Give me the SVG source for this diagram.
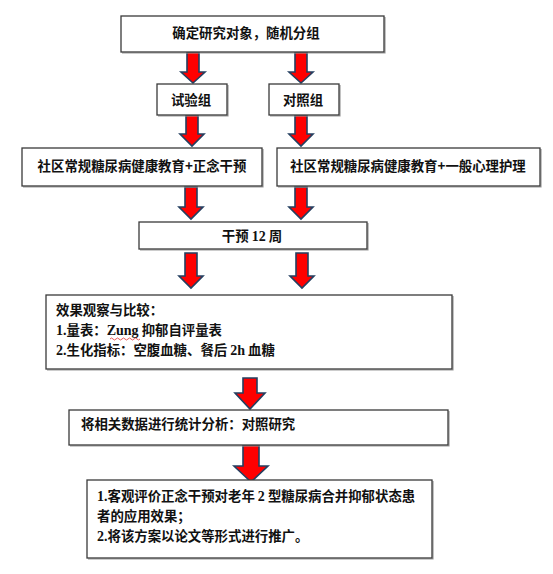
<svg xmlns="http://www.w3.org/2000/svg" width="553" height="574" viewBox="0 0 553 574">
<style>
.box{fill:#fff;stroke:#3a3a3a;stroke-width:1.3}
.sh{fill:none;stroke:#9a9a9a;stroke-width:1.2}
.arr{fill:#ff0000;stroke:#243f60;stroke-width:1.6;stroke-linejoin:miter}
text{font-family:"Noto Sans CJK SC","Noto Sans CJK JP",sans-serif;font-weight:bold;font-size:13.4px;fill:#111}
.c{text-anchor:middle}
.n{font-family:"Liberation Serif",serif;font-weight:bold;font-size:14px}
</style>
<rect width="553" height="574" fill="#fff"/>
<g id="connectors">
<polygon class="arr" points="187,52 199,52 199,72 205,72 193,83 181,72 187,72"/>
<polygon class="arr" points="295,52 307,52 307,72 313,72 301,83 289,72 295,72"/>
<polygon class="arr" points="186,115 198,115 198,134 204,134 192,146 180,134 186,134"/>
<polygon class="arr" points="295,115 307,115 307,134 313,134 301,146 289,134 295,134"/>
<polygon class="arr" points="185,187 197,187 197,207 203,207 191,219 179,207 185,207"/>
<polygon class="arr" points="295,187 307,187 307,207 313,207 301,219 289,207 295,207"/>
<polygon class="arr" points="185,253 197,253 197,276 203,276 191,288 179,276 185,276"/>
<polygon class="arr" points="296,253 308,253 308,276 314,276 302,288 290,276 296,276"/>
<polygon class="arr" points="243,378 257,378 257,393 265,393 250,409 235,393 243,393"/>
<polygon class="arr" points="243,445 259,445 259,466 268,466 251,482 234,466 243,466"/>
</g>
<g id="n1">
<polyline class="sh" points="385,17 385,53 122,53"/>
<rect class="box" x="121" y="16" width="263" height="36"/>
<text class="c" x="246" y="38">确定研究对象，随机分组</text>
</g>
<g id="n2">
<polyline class="sh" points="228,85 228,116 158,116"/>
<rect class="box" x="157" y="84" width="70" height="31"/>
<text class="c" x="191" y="105">试验组</text>
</g>
<g id="n3">
<polyline class="sh" points="340,85 340,116 270,116"/>
<rect class="box" x="269" y="84" width="70" height="31"/>
<text class="c" x="303" y="105">对照组</text>
</g>
<g id="n4">
<polyline class="sh" points="263,149 263,187 23,187"/>
<rect class="box" x="22" y="148" width="240" height="38"/>
<text class="c" x="142" y="171">社区常规糖尿病健康教育+正念干预</text>
</g>
<g id="n5">
<polyline class="sh" points="541,149 541,187 278,187"/>
<rect class="box" x="277" y="148" width="263" height="38"/>
<text class="c" x="408" y="171">社区常规糖尿病健康教育+一般心理护理</text>
</g>
<g id="n6">
<polyline class="sh" points="368,223 368,250 140,250"/>
<rect class="box" x="139" y="222" width="228" height="27"/>
<text class="c" x="252" y="241">干预 <tspan class="n">12</tspan> 周</text>
</g>
<g id="n7">
<polyline class="sh" points="453,296 453,370 47,370"/>
<rect class="box" x="46" y="295" width="406" height="74"/>
<text x="56" y="315">效果观察与比较：</text>
<text x="56" y="335"><tspan class="n">1.</tspan>量表：<tspan class="n">Zung</tspan> 抑郁自评量表</text>
<path d="M110,339 q1.5,-2 3,0 t3,0 t3,0 t3,0 t3,0 t3,0 t3,0 t3,0 t3,0 t3,0" fill="none" stroke="#e03030" stroke-width="0.8"/>
<text x="56" y="355"><tspan class="n">2.</tspan>生化指标：空腹血糖、餐后 <tspan class="n">2h</tspan> 血糖</text>
</g>
<g id="n8">
<polyline class="sh" points="449,411 449,446 70,446"/>
<rect class="box" x="69" y="410" width="379" height="35"/>
<text x="81" y="429">将相关数据进行统计分析：对照研究</text>
</g>
<g id="n9">
<polyline class="sh" points="433,481 433,559 88,559"/>
<rect class="box" x="87" y="480" width="345" height="78"/>
<text x="97" y="501"><tspan class="n">1.</tspan>客观评价正念干预对老年 <tspan class="n">2</tspan> 型糖尿病合并抑郁状态患</text>
<text x="97" y="521">者的应用效果；</text>
<text x="97" y="541"><tspan class="n">2.</tspan>将该方案以论文等形式进行推广。</text>
</g>
</svg>
